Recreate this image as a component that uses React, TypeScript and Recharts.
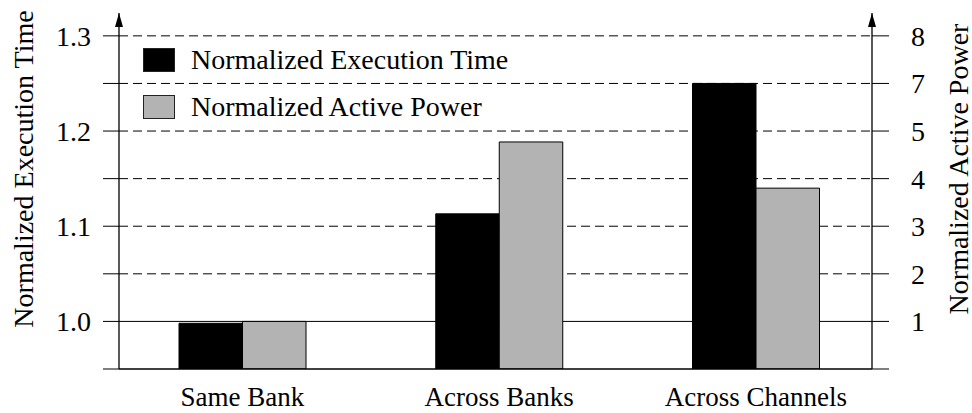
import { BarChart, Bar, XAxis, YAxis, CartesianGrid, Legend } from 'recharts';

const FONT = '"Liberation Serif", "Times New Roman", serif';

const categories = ['Same Bank', 'Across Banks', 'Across Channels'];
const execTime = [0.998, 1.113, 1.25];
const activePower = [1.0, 4.77, 3.8];
const seriesNames = ['Normalized Execution Time', 'Normalized Active Power'];
const seriesColors = ['#000000', '#b3b3b3'];

const leftTicks = [0.95, 1.0, 1.05, 1.1, 1.15, 1.2, 1.25, 1.3];
const leftTickLabels = ['', '1.0', '', '1.1', '', '1.2', '', '1.3'];
const rightTicks = [0, 1, 2, 3, 4, 5, 6, 7];
const rightTickLabels = ['', '1', '2', '3', '4', '5', '7', '8'];
const gridValues = [1.0, 1.05, 1.1, 1.15, 1.2, 1.25, 1.3];

const data = categories.map((name, i) => ({
  name,
  exec: execTime[i],
  power: activePower[i],
}));

// solid line at 1.0, dashed everywhere else
const renderGridLine = (p: any) => (
  <line
    key={p.key}
    x1={p.x1}
    y1={p.y1}
    x2={p.x2}
    y2={p.y2}
    stroke="#000"
    strokeWidth={1}
    strokeDasharray={gridValues[p.index] === 1.0 ? undefined : '9 5'}
  />
);

const renderLegend = () => (
  <div style={{ fontFamily: FONT, fontSize: 28, color: '#000' }}>
    {seriesNames.map((n, i) => (
      <div key={n} style={{ display: 'flex', alignItems: 'center', height: 24, marginBottom: 22.5 }}>
        <span
          style={{
            display: 'inline-block',
            width: 32,
            height: 24,
            boxSizing: 'border-box',
            background: seriesColors[i],
            border: '1px solid #222',
            marginRight: 16,
          }}
        />
        <span style={{ lineHeight: '24px', whiteSpace: 'nowrap' }}>{n}</span>
      </div>
    ))}
  </div>
);

const axisTitle = (text: string, x: number, y: number) => () => (
  <text
    x={x}
    y={y}
    transform={`rotate(-90 ${x} ${y})`}
    textAnchor="middle"
    dominantBaseline="central"
    fontSize={28}
    fontFamily={FONT}
    fill="#000"
  >
    {text}
  </text>
);

export default function App() {
  const tickStyle = { fill: '#000', fontSize: 28, fontFamily: FONT };
  const axisLineStyle = { stroke: '#000', strokeWidth: 1.3, markerStart: 'url(#axisArrow)' };

  return (
    <div style={{ position: 'absolute', left: 0, top: 0, width: 972, height: 413, background: '#fff' }}>
      <BarChart
        width={972}
        height={413}
        data={data}
        margin={{ top: 13, right: 0, bottom: 0, left: 0 }}
        barGap={0}
        barSize={63.5}
      >
        <defs>
          <marker
            id="axisArrow"
            viewBox="0 0 14 8"
            refX="14"
            refY="4"
            markerWidth="14"
            markerHeight="8"
            markerUnits="userSpaceOnUse"
            orient="auto-start-reverse"
          >
            <path d="M0,0 L14,4 L0,8 z" fill="#000" />
          </marker>
        </defs>
        <CartesianGrid
          yAxisId="left"
          vertical={false}
          horizontalValues={gridValues}
          horizontal={renderGridLine}
        />
        <XAxis
          dataKey="name"
          height={44}
          interval={0}
          axisLine={{ stroke: '#000', strokeWidth: 1.3 }}
          tickLine={false}
          tickMargin={12}
          padding={{ left: -5, right: -12.25 }}
          tick={{ fill: '#000', fontSize: 27, fontFamily: FONT }}
        />
        <YAxis
          yAxisId="left"
          orientation="left"
          width={119}
          type="number"
          domain={[0.95, 1.324]}
          allowDataOverflow
          ticks={leftTicks}
          interval={0}
          tickFormatter={(v: number) => leftTickLabels[leftTicks.indexOf(v)] ?? ''}
          tickSize={16}
          tickMargin={12}
          tickLine={{ stroke: '#000' }}
          axisLine={axisLineStyle}
          tick={tickStyle}
          label={{ content: axisTitle('Normalized Execution Time', 23, 169) }}
        />
        <YAxis
          yAxisId="right"
          orientation="right"
          width={100}
          type="number"
          domain={[0, 7.48]}
          allowDataOverflow
          ticks={rightTicks}
          interval={0}
          tickFormatter={(v: number) => rightTickLabels[rightTicks.indexOf(v)] ?? ''}
          tickSize={17}
          tickMargin={22}
          tickLine={{ stroke: '#000' }}
          axisLine={axisLineStyle}
          tick={tickStyle}
          label={{ content: axisTitle('Normalized Active Power', 958, 169) }}
        />
        <Legend
          layout="vertical"
          align="center"
          verticalAlign="middle"
          content={renderLegend}
          wrapperStyle={{ left: 143, top: 48, width: 'auto' }}
        />
        <Bar
          yAxisId="left"
          dataKey="exec"
          name={seriesNames[0]}
          fill={seriesColors[0]}
          stroke="#000"
          strokeWidth={1}
          isAnimationActive={false}
        />
        <Bar
          yAxisId="right"
          dataKey="power"
          name={seriesNames[1]}
          fill={seriesColors[1]}
          stroke="#000"
          strokeWidth={1}
          isAnimationActive={false}
        />
      </BarChart>
    </div>
  );
}
